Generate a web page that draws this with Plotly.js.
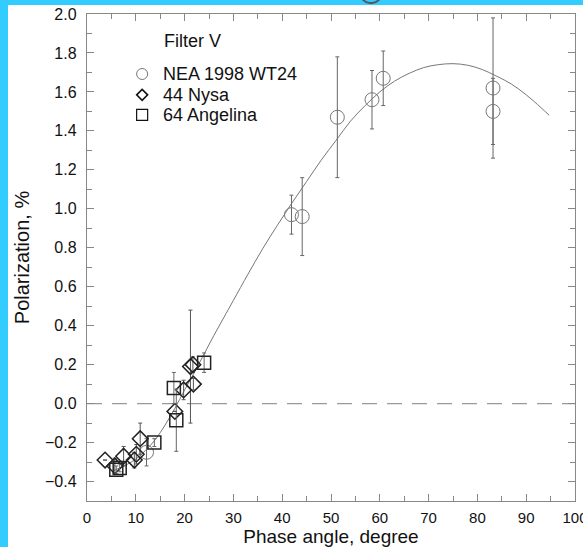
<!DOCTYPE html>
<html><head><meta charset="utf-8">
<script src="https://cdn.plot.ly/plotly-3.0.1.min.js"></script>
<style>
html,body{margin:0;padding:0;background:#33CCFF;width:583px;height:547px;overflow:hidden;}
#chart{position:absolute;left:8px;top:5px;width:575px;height:542px;background:#fff;overflow:hidden;}
#blob{position:absolute;left:360px;top:-8px;width:18px;height:10px;border:2px solid #556;border-top:none;border-radius:0 0 10px 10px;}
</style></head><body>
<div id="chart"></div>
<div id="blob"></div>
<script>
// NEA 1998 WT24 (circles)
const neaX = [12.2, 41.9, 44.1, 51.3, 58.4, 60.7, 83.2, 83.2];
const neaY = [-0.25, 0.97, 0.96, 1.47, 1.56, 1.67, 1.62, 1.50];
const neaErr = [0.07, 0.10, 0.20, 0.31, 0.15, 0.14, 0.36, 0.17];
// 44 Nysa (diamonds)
const nysaX = [3.7, 5.7, 7.5, 9.7, 10.1, 10.9, 18.0, 19.8, 21.2, 21.7, 21.8];
const nysaY = [-0.29, -0.32, -0.27, -0.29, -0.26, -0.18, -0.04, 0.07, 0.19, 0.20, 0.10];
const nysaErr = [0.0, 0.04, 0.05, 0.04, 0.05, 0.08, 0.0, 0.05, 0.29, 0.04, 0.03];
// 64 Angelina (squares)
const angX = [6.0, 6.7, 13.8, 17.8, 18.3, 24.0];
const angY = [-0.34, -0.33, -0.20, 0.08, -0.085, 0.21];
const angErr = [0.02, 0.02, 0.02, 0.08, 0.16, 0.05];
// fitted phase curve
const fitX = [5.4, 8, 10, 12, 14, 16, 18, 20, 22, 24, 26, 28, 30, 33, 36, 39, 42, 45, 48, 51, 54, 57, 60, 63, 66, 69, 72, 75, 78, 81, 84, 87, 90, 93, 94.7];
const fitY = [-0.345, -0.315, -0.285, -0.24, -0.185, -0.11, -0.025, 0.07, 0.16, 0.255, 0.35, 0.44, 0.53, 0.665, 0.795, 0.915, 1.03, 1.14, 1.25, 1.35, 1.45, 1.53, 1.60, 1.655, 1.695, 1.725, 1.74, 1.745, 1.737, 1.715, 1.68, 1.64, 1.585, 1.52, 1.48];
const legendNames = ['NEA 1998 WT24', '44 Nysa', '64 Angelina'];
const filterLabel = 'Filter V';
const xTicks = [0, 10, 20, 30, 40, 50, 60, 70, 80, 90, 100];

const F = 'Liberation Sans, Arial, sans-serif';
const traces = [
  {x: [0, 100], y: [0, 0], mode: 'lines', line: {color: '#999', width: 1.3, dash: '15px,10px'}, showlegend: false, hoverinfo: 'skip'},
  {x: fitX, y: fitY, mode: 'lines', line: {color: '#777', width: 1, shape: 'spline'}, showlegend: false},
  {x: neaX, y: neaY, mode: 'markers', showlegend: false,
   marker: {symbol: 'circle-open', size: 14, color: '#777', line: {width: 1, color: '#777'}},
   error_y: {type: 'data', array: neaErr, visible: true, color: '#666', thickness: 1, width: 2}},
  {x: nysaX, y: nysaY, mode: 'markers', showlegend: false,
   marker: {symbol: 'diamond-open', size: 12, color: '#222', line: {width: 1.5, color: '#222'}},
   error_y: {type: 'data', array: nysaErr, visible: true, color: '#555', thickness: 1, width: 2}},
  {x: angX, y: angY, mode: 'markers', showlegend: false,
   marker: {symbol: 'square-open', size: 13, color: '#222', line: {width: 1.5, color: '#222'}},
   error_y: {type: 'data', array: angErr, visible: true, color: '#666', thickness: 1, width: 2}}
];

// legend drawn as shapes + annotations (positions in data coords, sizes in pixels)
const legX = 11.3, legY = [1.692, 1.585, 1.482], legTextX = 15.2;
const shapes = [
  {type: 'circle', xref: 'x', yref: 'y', xsizemode: 'pixel', ysizemode: 'pixel', xanchor: legX, yanchor: legY[0],
   x0: -5.5, x1: 5.5, y0: -5.5, y1: 5.5, line: {color: '#777', width: 1}},
  {type: 'path', xref: 'x', yref: 'y', xsizemode: 'pixel', ysizemode: 'pixel', xanchor: legX, yanchor: legY[1],
   path: 'M -5.5 0 L 0 5.5 L 5.5 0 L 0 -5.5 Z', line: {color: '#111', width: 1.6}},
  {type: 'rect', xref: 'x', yref: 'y', xsizemode: 'pixel', ysizemode: 'pixel', xanchor: legX, yanchor: legY[2],
   x0: -5.5, x1: 5.5, y0: -5.5, y1: 5.5, line: {color: '#111', width: 1.2}}
];
const annotations = [
  {xref: 'x', yref: 'y', x: 15.4, y: 1.862, xanchor: 'left', yanchor: 'middle', showarrow: false,
   text: filterLabel, font: {family: F, size: 18, color: '#111'}}
].concat(legendNames.map((n, i) => ({xref: 'x', yref: 'y', x: legTextX, y: legY[i], xanchor: 'left', yanchor: 'middle',
   showarrow: false, text: n, font: {family: F, size: 18, color: '#111'}})));

const axisCommon = {
  showgrid: false, zeroline: false, showline: true, linecolor: '#888', linewidth: 1.2,
  mirror: 'ticks', ticks: 'inside', ticklen: 7, tickcolor: '#888', tickwidth: 1,
  tickfont: {family: F, size: 16, color: '#111'}
};
const layout = {
  width: 575, height: 542,
  margin: {l: 79, r: 8, t: 9, b: 46},
  paper_bgcolor: '#fff', plot_bgcolor: '#fff',
  showlegend: false,
  xaxis: Object.assign({}, axisCommon, {range: [0, 100], tickvals: xTicks, ticktext: xTicks.map(String),
    tickfont: {family: F, size: 15, color: '#111'},
    minor: {dtick: 5, ticks: 'inside', ticklen: 5, tickcolor: '#888'},
    ticklabelstandoff: 3, ticklabeloverflow: 'allow',
    title: {text: 'Phase angle, degree', font: {family: F, size: 19, color: '#111'}, standoff: 8}}),
  yaxis: Object.assign({}, axisCommon, {range: [-0.5, 2.0], dtick: 0.2, tick0: 0, tickformat: '.1f',
    minor: {dtick: 0.1, ticks: 'inside', ticklen: 5, tickcolor: '#888'},
    ticklabelstandoff: 6,
    title: {text: 'Polarization, %', font: {family: F, size: 20, color: '#111'}, standoff: 10}}),
  shapes: shapes,
  annotations: annotations
};
Plotly.newPlot('chart', traces, layout, {displayModeBar: false, staticPlot: true});
</script>
</body></html>
